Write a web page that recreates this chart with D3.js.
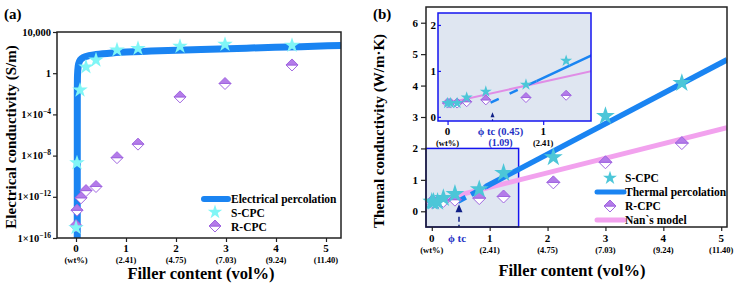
<!DOCTYPE html>
<html>
<head>
<meta charset="utf-8">
<script src="https://cdn.jsdelivr.net/npm/d3@7"></script>
<style>
  body { margin: 0; background: #fff; }
  svg text { font-family: "Liberation Serif", "Times New Roman", serif; font-weight: bold; }
</style>
</head>
<body>
<div id="wrapper"></div>
<script>
// ---- data ----
// panel (a): electrical conductivity, S/m
const elecStarX = [0, 0.02, 0.08, 0.2, 0.4, 0.82, 1.24, 2.08, 2.98, 4.32];
const elecStarY = [1e-15, 2e-9, 0.023, 4, 19, 180, 250, 400, 630, 500];
const elecDiaX = [0, 0.02, 0.1, 0.2, 0.4, 0.82, 1.24, 2.08, 2.98, 4.32];
const elecDiaY = [1.6e-15, 5e-14, 8e-13, 4e-12, 1e-11, 6.3e-9, 1.3e-7, 5e-3, 0.1, 6.3];
const elecFitX = [0.025, 0.026, 0.03, 0.045, 0.07, 0.12, 0.2, 0.4, 0.8, 1.5, 2.5, 3.5, 4.5, 5.3];
const elecFitY = [1e-16, 1e-2, 0.6, 5, 14, 28, 42, 65, 100, 140, 200, 280, 380, 500];
const elecYTicks = [1e-16, 1e-12, 1e-8, 1e-4, 1, 1e4];

// panel (b): thermal conductivity, W/m·K
const thermStarX = [0, 0.03, 0.1, 0.2, 0.4, 0.82, 1.24, 2.1, 3.0, 4.32];
const thermStarY = [0.3, 0.3, 0.3, 0.42, 0.55, 0.7, 1.22, 1.72, 3.03, 4.08];
const thermDiaX = [0, 0.03, 0.1, 0.2, 0.4, 0.82, 1.24, 2.1, 3.0, 4.32];
const thermDiaY = [0.3, 0.3, 0.3, 0.33, 0.37, 0.42, 0.47, 0.92, 1.56, 2.17];
const percDashX = [0.45, 0.93];
const percDashY = [0.31, 0.78];
const percSolidX = [0.93, 5.1];
const percSolidY = [0.78, 4.82];
const nanX = [0, 5.1];
const nanY = [0.3, 2.66];
const phiTc = 0.47;

// shared x tick labels
const xTicks = [0, 1, 2, 3, 4, 5];
const xSubLabels = ["(wt%)", "(2.41)", "(4.75)", "(7.03)", "(9.24)", "(11.40)"];

const zip = (xs, ys) => xs.map((x, i) => [x, ys[i]]);

const colors = {
  elecLine: "#1a84f2",
  starA: "#80f6f6",
  starB: "#4cc6d8",
  diaFill: "#b47be9",
  diaStroke: "#a066e0",
  nan: "#f2a2ee",
  insetFill: "#dfe6f1",
  insetBorder: "#1414f0",
  phi: "#2431c4",
  arrow: "#0f1f86"
};

const svg = d3.select("#wrapper").append("svg")
  .attr("width", 735).attr("height", 288);

const star = (size) => d3.symbol(d3.symbolStar, size)();

function drawDiamonds(g, pts, s) {
  const d = g.selectAll(null).data(pts).enter().append("g")
    .attr("transform", p => `translate(${p[0]},${p[1]})`);
  d.append("path").attr("d", `M${-s},0L0,${s}L${s},0Z`)
    .attr("fill", "#fff").attr("stroke", colors.diaStroke).attr("stroke-width", 1);
  d.append("path").attr("d", `M${-s},0L0,${-s}L${s},0Z`)
    .attr("fill", colors.diaFill).attr("stroke", colors.diaStroke).attr("stroke-width", 1);
}

function drawStars(g, pts, size, color) {
  g.selectAll(null).data(pts).enter().append("path")
    .attr("d", star(size))
    .attr("transform", p => `translate(${p[0]},${p[1]})`)
    .attr("fill", color);
}

// ================= panel (a) =================
const A = { left: 57, right: 341, top: 32, bottom: 238 };
const xA = d3.scaleLinear().domain([-0.38, 5.3]).range([A.left, A.right]);
const yA = d3.scaleLog().domain([1e-16, 1e4]).range([A.bottom, A.top]);

const gA = svg.append("g");
gA.append("clipPath").attr("id", "clipA").append("rect")
  .attr("x", A.left).attr("y", A.top).attr("width", A.right - A.left).attr("height", A.bottom - A.top);

const lineA = d3.line().x(d => xA(d[0])).y(d => yA(d[1])).curve(d3.curveMonotoneX);
gA.append("path")
  .attr("clip-path", "url(#clipA)")
  .attr("d", lineA(zip(elecFitX, elecFitY)))
  .attr("fill", "none").attr("stroke", colors.elecLine).attr("stroke-width", 7);

drawDiamonds(gA, zip(elecDiaX, elecDiaY).map(d => [xA(d[0]), yA(d[1])]), 6);
drawStars(gA, zip(elecStarX, elecStarY).map(d => [xA(d[0]), yA(d[1])]), 75, colors.starA);

gA.append("rect").attr("x", A.left).attr("y", A.top)
  .attr("width", A.right - A.left).attr("height", A.bottom - A.top)
  .attr("fill", "none").attr("stroke", "#222").attr("stroke-width", 1.5);

// x axis (a)
const axA = gA.append("g").attr("transform", `translate(0,${A.bottom})`)
  .call(d3.axisBottom(xA).tickValues(xTicks).tickSize(4).tickFormat(""));
axA.select(".domain").remove();
axA.selectAll("line").attr("stroke", "#222").attr("stroke-width", 1.2);
xTicks.forEach((t, i) => {
  gA.append("text").attr("x", xA(t)).attr("y", A.bottom + 14)
    .attr("text-anchor", "middle").attr("font-size", 11).text(t);
  gA.append("text").attr("x", xA(t)).attr("y", A.bottom + 25)
    .attr("text-anchor", "middle").attr("font-size", 8.5).text(xSubLabels[i]);
});

// y axis (a)
const ayA = gA.append("g").attr("transform", `translate(${A.left},0)`)
  .call(d3.axisLeft(yA).tickValues(elecYTicks).tickSize(4).tickFormat(""));
ayA.select(".domain").remove();
ayA.selectAll("line").attr("stroke", "#222").attr("stroke-width", 1.2);
elecYTicks.forEach(v => {
  const t = gA.append("text").attr("x", A.left - 6).attr("y", yA(v) + 3.5)
    .attr("text-anchor", "end").attr("font-size", 10.5);
  const e = Math.round(Math.log10(v));
  if (e === 4) t.text("10,000");
  else if (e === 0) t.text("1");
  else {
    t.append("tspan").text("1×10");
    t.append("tspan").attr("dy", -4).attr("font-size", 7.5).text("−" + (-e));
  }
});

gA.append("text").attr("transform", `translate(16,${(A.top + A.bottom) / 2 + 2}) rotate(-90)`)
  .attr("text-anchor", "middle").attr("font-size", 15).text("Electrical conductivity (S/m)");
gA.append("text").attr("x", (A.left + A.right) / 2 + 2).attr("y", 279)
  .attr("text-anchor", "middle").attr("font-size", 16.5).text("Filler content (vol%)");
gA.append("text").attr("x", 4).attr("y", 19).attr("font-size", 15).text("(a)");

// legend (a)
gA.append("line").attr("x1", 204).attr("x2", 228).attr("y1", 199).attr("y2", 199)
  .attr("stroke", colors.elecLine).attr("stroke-width", 6).attr("stroke-linecap", "round");
gA.append("text").attr("x", 231).attr("y", 203).attr("font-size", 11.5).text("Electrical percolation");
drawStars(gA, [[215, 212]], 65, colors.starA);
gA.append("text").attr("x", 231).attr("y", 216.5).attr("font-size", 11.5).text("S-CPC");
drawDiamonds(gA, [[215, 226]], 6);
gA.append("text").attr("x", 231).attr("y", 230.5).attr("font-size", 11.5).text("R-CPC");

// ================= panel (b) =================
const B = { left: 426, right: 727, top: 7, bottom: 227 };
const xB = d3.scaleLinear().domain([-0.1, 5.1]).range([B.left, B.right]);
const yB = d3.scaleLinear().domain([-0.5, 6.5]).range([B.bottom, B.top]);

const gB = svg.append("g");
gB.append("clipPath").attr("id", "clipB").append("rect")
  .attr("x", B.left).attr("y", B.top).attr("width", B.right - B.left).attr("height", B.bottom - B.top);

// highlighted zoom region
gB.append("rect").attr("x", xB(-0.1)).attr("y", yB(2))
  .attr("width", xB(1.5) - xB(-0.1)).attr("height", yB(-0.5) - yB(2))
  .attr("fill", colors.insetFill).attr("stroke", colors.insetBorder).attr("stroke-width", 1.5);

const lineB = d3.line().x(d => xB(d[0])).y(d => yB(d[1]));
const plotB = gB.append("g").attr("clip-path", "url(#clipB)");
plotB.append("path").attr("d", lineB(zip(nanX, nanY)))
  .attr("fill", "none").attr("stroke", colors.nan).attr("stroke-width", 5);
plotB.append("path").attr("d", lineB(zip(percDashX, percDashY)))
  .attr("fill", "none").attr("stroke", colors.elecLine).attr("stroke-width", 5)
  .attr("stroke-dasharray", "9,6");
plotB.append("path").attr("d", lineB(zip(percSolidX, percSolidY)))
  .attr("fill", "none").attr("stroke", colors.elecLine).attr("stroke-width", 5.5);

drawDiamonds(gB, zip(thermDiaX, thermDiaY).map(d => [xB(d[0]), yB(d[1])]), 6.5);
drawStars(gB, zip(thermStarX, thermStarY).map(d => [xB(d[0]), yB(d[1])]), 110, colors.starB);

// phi_tc arrow (main)
gB.append("path")
  .attr("d", `M${xB(phiTc)},${yB(0.22)}l-3.5,8h7Z`).attr("fill", colors.arrow);
gB.append("line").attr("x1", xB(phiTc)).attr("x2", xB(phiTc))
  .attr("y1", yB(-0.17)).attr("y2", B.bottom)
  .attr("stroke", colors.arrow).attr("stroke-width", 1.5).attr("stroke-dasharray", "5,3");

gB.append("rect").attr("x", B.left).attr("y", B.top)
  .attr("width", B.right - B.left).attr("height", B.bottom - B.top)
  .attr("fill", "none").attr("stroke", "#222").attr("stroke-width", 1.5);

// x axis (b)
const axB = gB.append("g").attr("transform", `translate(0,${B.bottom})`)
  .call(d3.axisBottom(xB).tickValues(xTicks).tickSize(4).tickFormat(""));
axB.select(".domain").remove();
axB.selectAll("line").attr("stroke", "#222").attr("stroke-width", 1.2);
xTicks.forEach((t, i) => {
  gB.append("text").attr("x", xB(t)).attr("y", B.bottom + 15)
    .attr("text-anchor", "middle").attr("font-size", 11).text(t);
  gB.append("text").attr("x", xB(t)).attr("y", B.bottom + 26)
    .attr("text-anchor", "middle").attr("font-size", 8.5).text(xSubLabels[i]);
});
gB.append("text").attr("x", xB(phiTc) - 2).attr("y", B.bottom + 15)
  .attr("text-anchor", "middle").attr("font-size", 11).attr("fill", colors.phi)
  .text("ϕ tc");

// y axis (b)
const ayB = gB.append("g").attr("transform", `translate(${B.left},0)`)
  .call(d3.axisLeft(yB).tickValues(d3.range(0, 7)).tickSize(5).tickFormat(""));
ayB.select(".domain").remove();
ayB.selectAll("line").attr("stroke", "#222").attr("stroke-width", 1.2);
d3.range(0, 7).forEach(v => {
  gB.append("text").attr("x", B.left - 8).attr("y", yB(v) + 4)
    .attr("text-anchor", "end").attr("font-size", 11).text(v);
});

gB.append("text").attr("transform", `translate(384,${(B.top + B.bottom) / 2 + 14}) rotate(-90)`)
  .attr("text-anchor", "middle").attr("font-size", 15).text("Themal conductivity (W/m·K)");
gB.append("text").attr("x", 572).attr("y", 276)
  .attr("text-anchor", "middle").attr("font-size", 16.5).text("Filler content (vol%)");
gB.append("text").attr("x", 373).attr("y", 19).attr("font-size", 15).text("(b)");

// legend (b)
drawStars(gB, [[610, 178]], 60, colors.starB);
gB.append("text").attr("x", 625).attr("y", 182).attr("font-size", 11.5).text("S-CPC");
gB.append("line").attr("x1", 597).attr("x2", 624).attr("y1", 192).attr("y2", 192)
  .attr("stroke", colors.elecLine).attr("stroke-width", 5).attr("stroke-linecap", "round");
gB.append("text").attr("x", 625).attr("y", 196).attr("font-size", 11.5).text("Thermal percolation");
drawDiamonds(gB, [[610, 206]], 6);
gB.append("text").attr("x", 625).attr("y", 210).attr("font-size", 11.5).text("R-CPC");
gB.append("line").attr("x1", 597).attr("x2", 624).attr("y1", 220).attr("y2", 220)
  .attr("stroke", colors.nan).attr("stroke-width", 5).attr("stroke-linecap", "round");
gB.append("text").attr("x", 625).attr("y", 224).attr("font-size", 11.5).text("Nan`s model");

// ================= inset =================
const I = { left: 438, right: 591, top: 13, bottom: 121 };
const xI = d3.scaleLinear().domain([-0.1, 1.5]).range([I.left, I.right]);
const yI = d3.scaleLinear().domain([-0.09, 2.26]).range([I.bottom, I.top]);
const gI = svg.append("g");
gI.append("clipPath").attr("id", "clipI").append("rect")
  .attr("x", I.left).attr("y", I.top).attr("width", I.right - I.left).attr("height", I.bottom - I.top);
gI.append("rect").attr("x", I.left).attr("y", I.top)
  .attr("width", I.right - I.left).attr("height", I.bottom - I.top)
  .attr("fill", colors.insetFill);

const lineI = d3.line().x(d => xI(d[0])).y(d => yI(d[1]));
const plotI = gI.append("g").attr("clip-path", "url(#clipI)");
plotI.append("path").attr("d", lineI(zip(nanX, nanY)))
  .attr("fill", "none").attr("stroke", "#e08de6").attr("stroke-width", 2);
plotI.append("path").attr("d", lineI(zip(percDashX, percDashY)))
  .attr("fill", "none").attr("stroke", colors.elecLine).attr("stroke-width", 2.5)
  .attr("stroke-dasharray", "9,12");
plotI.append("path").attr("d", lineI(zip(percSolidX, percSolidY)))
  .attr("fill", "none").attr("stroke", colors.elecLine).attr("stroke-width", 2.5);

const insetMask = (xs) => xs.map((x, i) => i).filter(i => xs[i] <= 1.5);
drawDiamonds(plotI, insetMask(thermDiaX).map(i => [xI(thermDiaX[i]), yI(thermDiaY[i])]), 5);
drawStars(plotI, insetMask(thermStarX).map(i => [xI(thermStarX[i]), yI(thermStarY[i])]), 45, colors.starB);

gI.append("path")
  .attr("d", `M${xI(phiTc)},${yI(0.1)}l-2,5h4Z`).attr("fill", colors.arrow);
gI.append("line").attr("x1", xI(phiTc)).attr("x2", xI(phiTc))
  .attr("y1", yI(0.1) + 7).attr("y2", I.bottom)
  .attr("stroke", colors.arrow).attr("stroke-width", 1.2).attr("stroke-dasharray", "3,2");

gI.append("rect").attr("x", I.left).attr("y", I.top)
  .attr("width", I.right - I.left).attr("height", I.bottom - I.top)
  .attr("fill", "none").attr("stroke", colors.insetBorder).attr("stroke-width", 1.5);

const ayI = gI.append("g").attr("transform", `translate(${I.left},0)`)
  .call(d3.axisRight(yI).tickValues([0, 1, 2]).tickSize(3).tickFormat(""));
ayI.select(".domain").remove();
ayI.selectAll("line").attr("stroke", colors.insetBorder).attr("stroke-width", 1.2);
[0, 1, 2].forEach(v => {
  gI.append("text").attr("x", I.left - 2).attr("y", yI(v) + 4)
    .attr("text-anchor", "end").attr("font-size", 11).text(v);
});
const axI = gI.append("g").attr("transform", `translate(0,${I.bottom})`)
  .call(d3.axisBottom(xI).tickValues([0, 1]).tickSize(4).tickFormat(""));
axI.select(".domain").remove();
axI.selectAll("line").attr("stroke", colors.insetBorder).attr("stroke-width", 1.2);
[0, 1].forEach((t, i) => {
  gI.append("text").attr("x", xI(t)).attr("y", I.bottom + 14)
    .attr("text-anchor", "middle").attr("font-size", 11).text(t);
  gI.append("text").attr("x", xI(t)).attr("y", I.bottom + 25)
    .attr("text-anchor", "middle").attr("font-size", 8.5).text(xSubLabels[i]);
});
gI.append("text").attr("x", xI(phiTc) + 8).attr("y", I.bottom + 14)
  .attr("text-anchor", "middle").attr("font-size", 10.5).attr("fill", colors.phi)
  .text("ϕ tc (0.45)");
gI.append("text").attr("x", xI(phiTc) + 8).attr("y", I.bottom + 25)
  .attr("text-anchor", "middle").attr("font-size", 10).attr("fill", colors.phi)
  .text("(1.09)");
</script>
</body>
</html>
